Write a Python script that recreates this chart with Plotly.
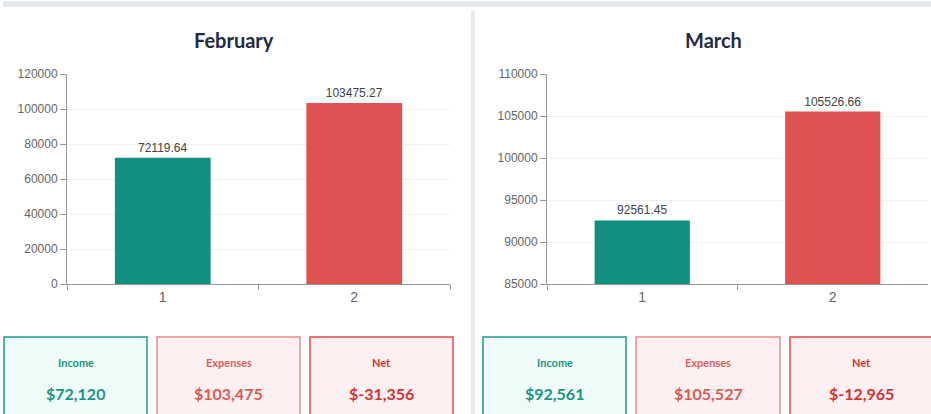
import plotly.graph_objects as go

W, H = 931, 414

months = ["February", "March"]
categories = ["1", "2"]
income = [72119.64, 92561.45]
expenses = [103475.27, 105526.66]
y_ranges = [[0, 120000], [85000, 110000]]
y_dticks = [20000, 5000]

TEAL = "#12907f"
RED = "#e05252"

def px(x):
    return x / W

def py(y):
    return 1 - y / H

fig = go.Figure()

panels = [
    dict(xd=(67, 450), title_x=234, cards=[(4, 147), (157, 300), (310, 453)]),
    dict(xd=(547, 928), title_x=713, cards=[(483, 626), (636, 780), (790, 933)]),
]
ydom = (py(284), py(74))

shapes = []
annotations = []

# top bar and divider
shapes.append(dict(type="rect", xref="paper", yref="paper", x0=px(3), x1=px(931), y0=py(7), y1=py(1),
                   fillcolor="#e6eaf0", line=dict(width=0), layer="below"))
shapes.append(dict(type="rect", xref="paper", yref="paper", x0=px(471), x1=px(475), y0=py(414), y1=py(10),
                   fillcolor="#e8ecf2", line=dict(width=0), layer="below"))

for i, m in enumerate(months):
    p = panels[i]
    suffix = "" if i == 0 else str(i + 1)
    vals = [income[i], expenses[i]]
    fig.add_trace(go.Bar(
        x=categories, y=vals, marker=dict(color=[TEAL, RED], line=dict(width=0)),
        width=0.5, text=[f"{v:.2f}" for v in vals], textposition="outside",
        textfont=dict(family="Liberation Sans, Arial", size=12, color="#444"),
        cliponaxis=False, xaxis="x" + suffix, yaxis="y" + suffix, showlegend=False,
        hoverinfo="skip",
    ))
    fig.update_layout(**{
        "xaxis" + suffix: dict(
            domain=[px(p["xd"][0]), px(p["xd"][1])], anchor="y" + suffix, type="category",
            showgrid=False, showline=True, linecolor="#999", linewidth=1,
            ticks="outside", ticklen=5, tickcolor="#999", tickson="boundaries",
            tickfont=dict(family="Liberation Sans, Arial", size=14, color="#666"),
            fixedrange=True, automargin=False,
        ),
        "yaxis" + suffix: dict(
            domain=list(ydom), anchor="x" + suffix, range=y_ranges[i], dtick=y_dticks[i],
            tick0=y_ranges[i][0], tickformat="d",
            showgrid=True, gridcolor="#f0f0f0", gridwidth=1, zeroline=False,
            showline=True, linecolor="#999", linewidth=1,
            ticks="outside", ticklen=6, tickcolor="#999",
            tickfont=dict(family="Liberation Sans, Arial", size=12, color="#666"),
            fixedrange=True, automargin=False,
        ),
    })
    annotations.append(dict(text=f"<b>{m}</b>", x=px(p["title_x"]), y=py(40), xref="paper", yref="paper",
                            showarrow=False, xanchor="center", yanchor="middle",
                            font=dict(family="Lato, Open Sans", size=20, color="#1f2a44")))

    net = income[i] - expenses[i]
    card_defs = [
        ("Income", f"${income[i]:,.0f}", "#eefbf8", "#1d9c8a", "#1d9584", "#1d9584"),
        ("Expenses", f"${expenses[i]:,.0f}", "#fdf0f0", "#ea8c8c", "#e06060", "#e05858"),
        ("Net", f"${net:,.0f}", "#fdf0f0", "#e24a4a", "#d83232", "#d83232"),
    ]
    for (x0, x1), (lab, val, bg, border, lc, vc) in zip(p["cards"], card_defs):
        shapes.append(dict(type="rect", xref="paper", yref="paper", x0=px(x0), x1=px(x1),
                           y0=py(430), y1=py(337), fillcolor=bg, line=dict(color=border, width=1.5),
                           layer="below"))
        cx = px((x0 + x1) / 2)
        annotations.append(dict(text=f"<b>{lab}</b>", x=cx, y=py(362), xref="paper", yref="paper",
                                showarrow=False, xanchor="center", yanchor="middle",
                                font=dict(family="Lato, Open Sans", size=11, color=lc)))
        annotations.append(dict(text=f"<b>{val}</b>", x=cx, y=py(393), xref="paper", yref="paper",
                                showarrow=False, xanchor="center", yanchor="middle",
                                font=dict(family="Lato, Open Sans", size=16, color=vc)))

fig.update_layout(
    width=W, height=H, margin=dict(l=0, r=0, t=0, b=0, pad=0, autoexpand=False),
    paper_bgcolor="white", plot_bgcolor="white",
    shapes=shapes, annotations=annotations, bargap=0.5,
)

fig.write_html("out.html", config={"displayModeBar": False})
